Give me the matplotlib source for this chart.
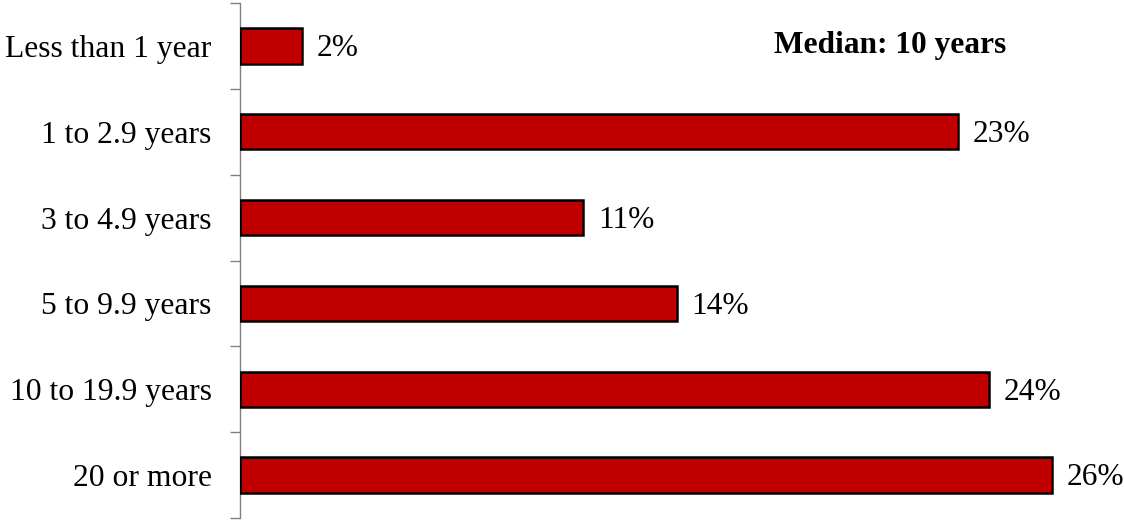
import matplotlib
matplotlib.use("Agg")
import matplotlib.pyplot as plt
import numpy as np

categories = ["Less than 1 year", "1 to 2.9 years", "3 to 4.9 years",
              "5 to 9.9 years", "10 to 19.9 years", "20 or more"]
values = [2, 23, 11, 14, 24, 26]
value_labels = ["2%", "23%", "11%", "14%", "24%", "26%"]
annotation = "Median: 10 years"

plt.rcParams['font.family'] = ['Liberation Serif', 'DejaVu Serif']

fig = plt.figure(figsize=(11.24, 5.2), dpi=100)
ax = fig.add_axes([240/1124, 2/520, (1114-240)/1124, (518-3)/520])

n = len(categories)
y = np.arange(n)
ax.barh(y, values, height=0.41, color="#C00000", edgecolor="black", linewidth=1.8, zorder=3)
ax.set_ylim(n - 0.5, -0.5)
ax.set_xlim(0, 28)

for yi, v, lab in zip(y, values, value_labels):
    ax.annotate(lab, (v, yi), xytext=(10.5, -2), textcoords="offset points",
                ha="left", va="center", fontsize=22.6)

ax.set_yticks(y)
ax.set_yticklabels(categories, fontsize=22.8)
ax.tick_params(axis="y", which="major", length=0, pad=20.5)
ax.set_yticks(np.arange(-0.5, n, 1), minor=True)
ax.tick_params(axis="y", which="minor", length=7, width=1, color="#808080")
ax.set_xticks([])
for s in ["top", "right", "bottom"]:
    ax.spines[s].set_visible(False)
ax.spines["left"].set_color("#808080")
ax.spines["left"].set_linewidth(1)

ax.text(890/1124, 1 - 45/520, annotation, transform=fig.transFigure, ha="center", va="center",
        fontsize=22.6, fontweight="bold")

fig.savefig("out.png", dpi=100)
